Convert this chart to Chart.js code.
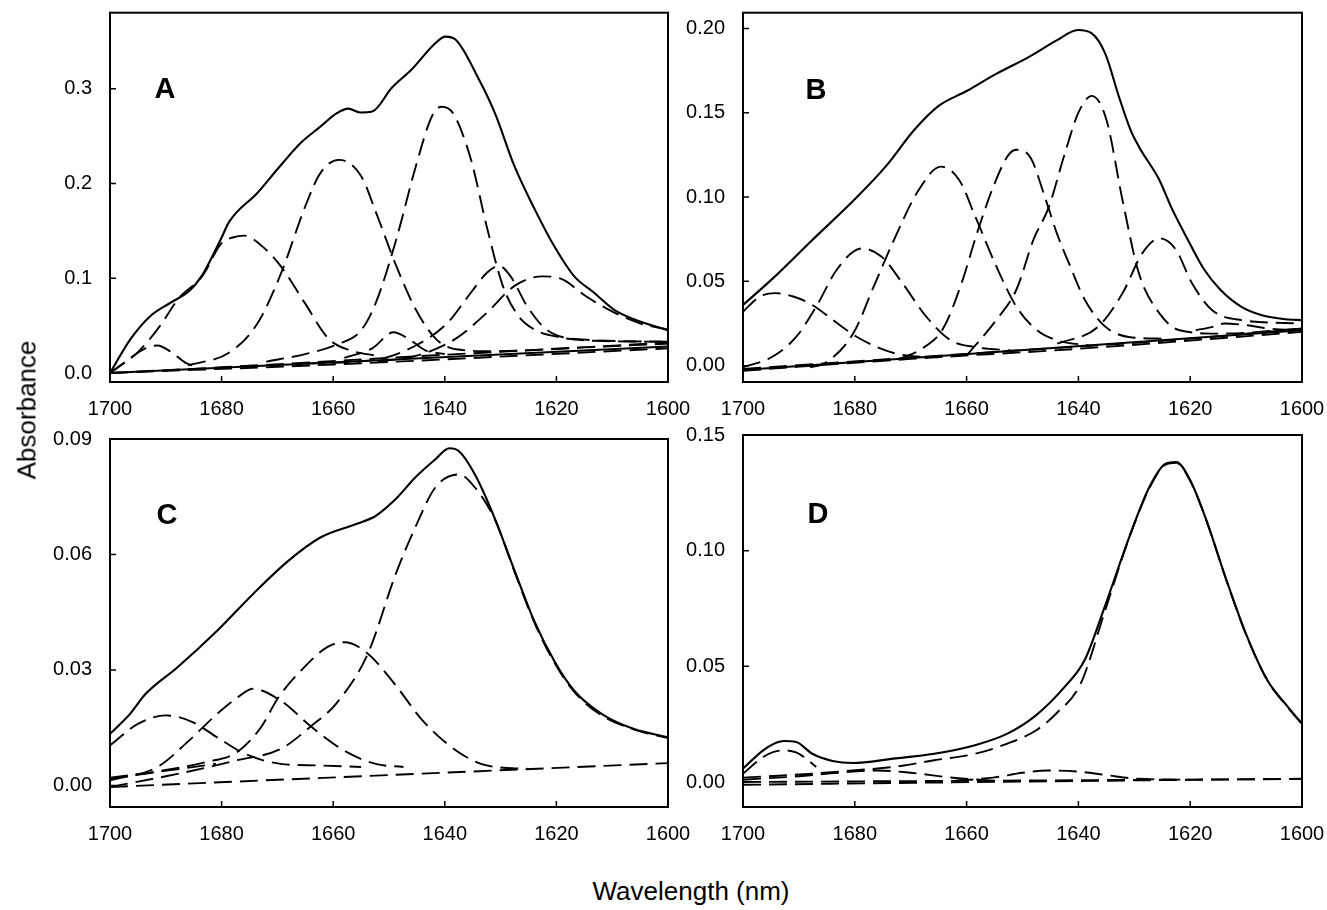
<!DOCTYPE html>
<html>
<head>
<meta charset="utf-8">
<script src="https://cdn.jsdelivr.net/npm/chart.js@4.4.1/dist/chart.umd.min.js"></script>
<style>
  body { margin: 0; background: #fff; }
  #wrap { position: relative; width: 1327px; height: 910px; overflow: hidden; font-family: "Liberation Sans", Arial, sans-serif; }
  canvas { position: absolute; }
  .lbl { position: absolute; font-weight: bold; font-size: 29px; transform: translate(-50%, -50%); z-index: 2; }
  .ttl { position: absolute; font-size: 26px; transform: translate(-50%, -50%); z-index: 2; white-space: nowrap; }
</style>
</head>
<body>
<div id="wrap">
  <canvas id="chartA" width="690" height="425" style="left:0;top:0"></canvas>
  <canvas id="chartB" width="647" height="425" style="left:680px;top:0"></canvas>
  <canvas id="chartC" width="690" height="425" style="left:0;top:425px"></canvas>
  <canvas id="chartD" width="647" height="425" style="left:680px;top:425px"></canvas>
  <div class="lbl" style="left:165px;top:88px">A</div>
  <div class="lbl" style="left:816px;top:89px">B</div>
  <div class="lbl" style="left:167px;top:514px">C</div>
  <div class="lbl" style="left:818px;top:513px">D</div>
  <div class="ttl" style="left:691px;top:891px">Wavelength (nm)</div>
  <div class="ttl" style="left:27px;top:410px;transform:translate(-50%,-50%) rotate(-90deg)">Absorbance</div>
</div>
<script>
// x tick labels (wavelength, reversed axis)
const xTicks = [1700, 1680, 1660, 1640, 1620, 1600];
const yTicksA = [0.0, 0.1, 0.2, 0.3];
const yTicksB = [0.00, 0.05, 0.10, 0.15, 0.20];
const yTicksC = [0.00, 0.03, 0.06, 0.09];
const yTicksD = [0.00, 0.05, 0.10, 0.15];

// ---- panel A ----
const aTotal = [[1700,0],[1696.3,0.036],[1692.8,0.06],[1689.2,0.074],[1685.7,0.087],[1683.5,0.103],[1681.5,0.125],[1680,0.143],[1678.6,0.16],[1673.6,0.19],[1670,0.215],[1665.8,0.243],[1662.3,0.26],[1659.4,0.274],[1657.3,0.279],[1655.2,0.275],[1653,0.276],[1649.5,0.301],[1646,0.32],[1641.7,0.348],[1639.9,0.355],[1638.1,0.352],[1633.9,0.31],[1631,0.274],[1627.5,0.218],[1623.9,0.173],[1620.4,0.134],[1616.8,0.102],[1613.3,0.085],[1609.7,0.067],[1606.2,0.057],[1600,0.045]];
const aPk1 = [[1700,0],[1696.5,0.015],[1694,0.025],[1691.5,0.029],[1689,0.022],[1686.5,0.011],[1684,0.006]];
const aPk2 = [[1700,0],[1695,0.022],[1691,0.05],[1687.8,0.078],[1683.5,0.102],[1680,0.137],[1678,0.143],[1676,0.145],[1672.2,0.131],[1669.3,0.112],[1665.1,0.074],[1660.8,0.036],[1657,0.024],[1652,0.018]];
const aPk3 = [[1686,0.008],[1678.5,0.022],[1673.5,0.053],[1669.3,0.106],[1665,0.176],[1662.3,0.211],[1659,0.225],[1655,0.208],[1652.3,0.169],[1648.7,0.113],[1645.2,0.067],[1641.6,0.036],[1638,0.025],[1631,0.023],[1615,0.027],[1600,0.031]];
const aPk4 = [[1672,0.012],[1665,0.02],[1659.4,0.03],[1655,0.045],[1652.3,0.075],[1648.7,0.141],[1645.2,0.218],[1642.3,0.271],[1640.6,0.281],[1638.5,0.274],[1635.3,0.225],[1632.5,0.155],[1629.6,0.092],[1626.8,0.06],[1624,0.046],[1619.7,0.038],[1613.3,0.034],[1600,0.033]];
const aPk5 = [[1658,0.016],[1653,0.026],[1649.2,0.043],[1646.5,0.036],[1643.5,0.024],[1640,0.02]];
const aPk6 = [[1665,0.01],[1652.3,0.014],[1645.2,0.029],[1639.5,0.053],[1635.3,0.085],[1632.4,0.106],[1630.3,0.113],[1628.2,0.102],[1625.3,0.071],[1621.8,0.046],[1616.8,0.036],[1600,0.033]];
const aPk7 = [[1652,0.012],[1645.2,0.018],[1638.1,0.036],[1632.4,0.064],[1627.5,0.092],[1622.5,0.102],[1619,0.099],[1614.7,0.081],[1609.7,0.064],[1604.8,0.052],[1600,0.046]];
const aBaseSolid = [[1700,0],[1600,0.028]];
const aBase1 = [[1700,0],[1680,0.006],[1650,0.016],[1600,0.032]];
const aBase2 = [[1700,0],[1660,0.009],[1600,0.026]];

// ---- panel B ----
const bTotal = [[1700,0.036],[1694.9,0.051],[1687.6,0.0745],[1679.6,0.1],[1674.5,0.118],[1669.3,0.14],[1665,0.154],[1659.9,0.163],[1654.7,0.173],[1648.9,0.183],[1643.8,0.193],[1640.1,0.199],[1637.6,0.197],[1635.2,0.185],[1632.8,0.16],[1630.7,0.14],[1629.2,0.13],[1625.5,0.11],[1623.4,0.094],[1620.4,0.0745],[1617.5,0.057],[1614.6,0.045],[1610.9,0.035],[1607.3,0.03],[1603,0.0275],[1600,0.027]];
const bPk1 = [[1700,0.032],[1697,0.041],[1694.2,0.043],[1691,0.041],[1687.6,0.036],[1683.9,0.027],[1679.6,0.017],[1674.5,0.009],[1670.8,0.006],[1665,0.005]];
const bPk2 = [[1700,-0.001],[1694.9,0.005],[1690.5,0.017],[1686.9,0.035],[1683.2,0.057],[1678.8,0.0695],[1675.2,0.0646],[1671.5,0.049],[1667.2,0.029],[1662.8,0.015],[1658.4,0.011],[1652,0.009]];
const bPk3 = [[1688,-0.001],[1685.4,0.0014],[1680.3,0.019],[1676.6,0.047],[1673,0.0745],[1668.6,0.104],[1664.6,0.118],[1661.3,0.11],[1658.4,0.088],[1654.7,0.059],[1651.1,0.035],[1647.4,0.021],[1643.8,0.015],[1638,0.012]];
const bPk4 = [[1672,0.004],[1668,0.01],[1664.2,0.022],[1661,0.048],[1658,0.08],[1655,0.108],[1652.5,0.125],[1651,0.128],[1648.5,0.123],[1646,0.1],[1643.8,0.078],[1641.6,0.06],[1639,0.04],[1635.5,0.024],[1631,0.017],[1625,0.016]];
const bPk5 = [[1660,0.006],[1654.7,0.027],[1651.1,0.045],[1648,0.075],[1645.3,0.094],[1642.5,0.125],[1640,0.15],[1637.6,0.16],[1635,0.146],[1632.1,0.098],[1629.2,0.055],[1625.5,0.031],[1621.9,0.021],[1614.6,0.019],[1600,0.022]];
const bPk6 = [[1643.8,0.013],[1636.5,0.023],[1632.1,0.043],[1628.5,0.067],[1625.5,0.0755],[1622.6,0.069],[1619.7,0.049],[1616.1,0.033],[1610.9,0.027],[1600,0.025]];
const bPk7 = [[1619,0.021],[1616,0.023],[1613.9,0.025],[1610,0.024],[1606,0.022],[1600,0.021]];
const bBaseSolid = [[1700,-0.0026],[1600,0.021]];
const bBase1 = [[1700,-0.003],[1670,0.004],[1640,0.01],[1600,0.02]];
const bBase2 = [[1700,-0.002],[1660,0.007],[1620,0.016],[1600,0.022]];

// ---- panel C ----
const cTotal = [[1700,0.0134],[1696.4,0.0186],[1693.6,0.0238],[1687.9,0.0307],[1680.8,0.0402],[1674.4,0.0497],[1668,0.0584],[1662.3,0.0644],[1655.9,0.0679],[1652.4,0.07],[1648.8,0.0744],[1645.3,0.08],[1641.7,0.0847],[1639.2,0.0876],[1637.5,0.0869],[1634.6,0.0808],[1631.1,0.0696],[1627.5,0.0558],[1624,0.0428],[1620.4,0.0324],[1616.8,0.0246],[1611.9,0.0186],[1606.2,0.0147],[1600,0.0125]];
const cPk1 = [[1700,0.0104],[1695,0.016],[1690,0.0182],[1685.1,0.0164],[1680.8,0.0125],[1675.8,0.0082],[1669.4,0.0056],[1663,0.0052],[1655,0.0048]];
const cPk2 = [[1700,0.0013],[1691.5,0.0048],[1685.8,0.0117],[1680.8,0.0186],[1677,0.023],[1674.4,0.0251],[1669.4,0.022],[1663.8,0.0151],[1658.1,0.0091],[1652.4,0.0056],[1647.4,0.0048]];
const cPk3 = [[1700,0.002],[1690,0.004],[1683,0.006],[1677.3,0.0086],[1673,0.015],[1669.8,0.0229],[1665,0.031],[1661,0.036],[1658,0.0372],[1654,0.0345],[1649,0.0264],[1644,0.0169],[1638,0.0091],[1632.5,0.0052],[1625,0.0043]];
const cPk4 = [[1700,-0.0004],[1687.9,0.003],[1677.3,0.0065],[1669.4,0.0095],[1663.8,0.0156],[1659.5,0.0212],[1653.8,0.0342],[1648.8,0.0549],[1645.3,0.067],[1641.7,0.0774],[1637.5,0.0808],[1634.6,0.0774],[1631,0.069],[1627.5,0.0555],[1624,0.0425],[1620.4,0.032],[1616.8,0.0243],[1612,0.0183],[1606,0.0145],[1600,0.0123]];
const cBase1 = [[1700,-0.0004],[1600,0.0058]];
const cBase2 = [[1700,0.0018],[1681,0.0056]];

// ---- panel D ----
const dTotal = [[1700,0.0058],[1696.4,0.0137],[1694.5,0.0165],[1692.7,0.0177],[1690.5,0.0173],[1687.6,0.0122],[1684,0.0091],[1680.4,0.0082],[1673.1,0.0101],[1665.8,0.0122],[1658.5,0.0159],[1652.7,0.0209],[1647.6,0.0288],[1642.5,0.041],[1638.9,0.0526],[1635.3,0.0757],[1630.9,0.1059],[1627.3,0.1275],[1624.4,0.1376],[1622.5,0.1383],[1620,0.1304],[1617.1,0.1131],[1613.5,0.0872],[1609.8,0.0627],[1606.2,0.044],[1602.5,0.0324],[1600,0.0252]];
const dPk1 = [[1700,0.0036],[1696.4,0.0108],[1694.5,0.013],[1692.7,0.0137],[1690.5,0.0128],[1689.1,0.0108],[1686.9,0.0065]];
const dPk2 = [[1700,0.0019],[1687.6,0.0036],[1680.4,0.005],[1673.1,0.0065],[1665.8,0.0094],[1658.5,0.0122],[1652.7,0.0166],[1647.6,0.0223],[1644,0.0295],[1639.6,0.0425],[1635.3,0.0735],[1631,0.105],[1627.3,0.127],[1624.4,0.1372],[1622.5,0.138],[1620,0.1302],[1617.1,0.113],[1613.5,0.087],[1609.8,0.0625],[1606.2,0.044],[1602.5,0.0322],[1600,0.025]];
const dPk3 = [[1662,0.0005],[1655,0.002],[1650,0.004],[1645.5,0.005],[1640,0.0045],[1635,0.003],[1629.5,0.0014],[1620,0.001]];
const dPk4 = [[1700,0.001],[1690,0.0025],[1683,0.004],[1676,0.005],[1670,0.004],[1663,0.002],[1655,0.0005]];
const dBase1 = [[1700,-0.0012],[1650,0.0002],[1600,0.0014]];
const dBase2 = [[1700,0.0],[1600,0.0013]];

const FONT = "'Liberation Sans', Arial, sans-serif";

// box around the plot + short inward ticks
const frame = {
  id: 'frame',
  afterDraw(chart) {
    const ctx = chart.ctx, a = chart.chartArea, sx = chart.scales.x, sy = chart.scales.y;
    ctx.save();
    ctx.strokeStyle = '#000';
    ctx.lineWidth = 2;
    ctx.strokeRect(a.left, a.top, a.right - a.left, a.bottom - a.top);
    ctx.lineWidth = 1.5;
    ctx.beginPath();
    sx.ticks.forEach(t => {
      const px = sx.getPixelForValue(t.value);
      ctx.moveTo(px, a.bottom); ctx.lineTo(px, a.bottom - 6);
    });
    sy.ticks.forEach(t => {
      const py = sy.getPixelForValue(t.value);
      ctx.moveTo(a.left, py); ctx.lineTo(a.left + 6, py);
    });
    ctx.stroke();
    ctx.restore();
  }
};

function pts(arr) { return arr.map(p => ({x: p[0], y: p[1]})); }

function line(arr, dashed) {
  return {
    data: pts(arr),
    borderColor: '#000',
    borderWidth: dashed ? 1.9 : 2.1,
    borderDash: dashed ? [18, 8] : [],
    pointRadius: 0,
    fill: false,
    cubicInterpolationMode: 'monotone'
  };
}

function makeChart(id, p) {
  const datasets = [line(p.total, false)];
  p.solid.forEach(s => datasets.push(line(s, false)));
  p.dashed.forEach(s => datasets.push(line(s, true)));
  new Chart(document.getElementById(id), {
    type: 'line',
    data: { datasets },
    options: {
      responsive: false,
      animation: false,
      layout: { padding: { top: p.top, right: p.right, left: 0, bottom: 0 } },
      plugins: { legend: { display: false }, tooltip: { enabled: false } },
      scales: {
        x: {
          type: 'linear', reverse: true, min: 1600, max: 1700,
          grid: { display: false }, border: { display: false },
          afterBuildTicks: s => { s.ticks = xTicks.map(v => ({value: v})); },
          afterFit: s => { s.height = 43; s.paddingLeft = 0; s.paddingRight = 0; },
          ticks: { color: '#000', padding: 7, maxRotation: 0, autoSkip: false,
                   font: { family: FONT, size: 20 }, callback: v => String(v) }
        },
        y: {
          type: 'linear', min: p.min, max: p.max,
          grid: { display: false }, border: { display: false },
          afterBuildTicks: s => { s.ticks = p.yTicks.map(v => ({value: v})); },
          afterFit: s => { s.width = p.yWidth; s.paddingTop = 0; s.paddingBottom = 0; },
          ticks: { color: '#000', padding: 10, autoSkip: false,
                   font: { family: FONT, size: 20 }, callback: v => v.toFixed(p.dec) }
        }
      }
    },
    plugins: [frame]
  });
}

makeChart('chartA', { total: aTotal, solid: [aBaseSolid], dashed: [aPk1, aPk2, aPk3, aPk4, aPk5, aPk6, aPk7, aBase1, aBase2],
  min: -0.0095, max: 0.3803, yTicks: yTicksA, dec: 1, yWidth: 110, top: 12.7, right: 22 });
makeChart('chartB', { total: bTotal, solid: [bBaseSolid], dashed: [bPk1, bPk2, bPk3, bPk4, bPk5, bPk6, bPk7, bBase1, bBase2],
  min: -0.0097, max: 0.2093, yTicks: yTicksB, dec: 2, yWidth: 63, top: 12.7, right: 25 });
makeChart('chartC', { total: cTotal, solid: [], dashed: [cPk1, cPk2, cPk3, cPk4, cBase1, cBase2],
  min: -0.0056, max: 0.09, yTicks: yTicksC, dec: 2, yWidth: 110, top: 14, right: 22 });
makeChart('chartD', { total: dTotal, solid: [], dashed: [dPk1, dPk2, dPk3, dPk4, dBase1, dBase2],
  min: -0.0108, max: 0.15, yTicks: yTicksD, dec: 2, yWidth: 63, top: 10, right: 25 });
</script>
</body>
</html>
